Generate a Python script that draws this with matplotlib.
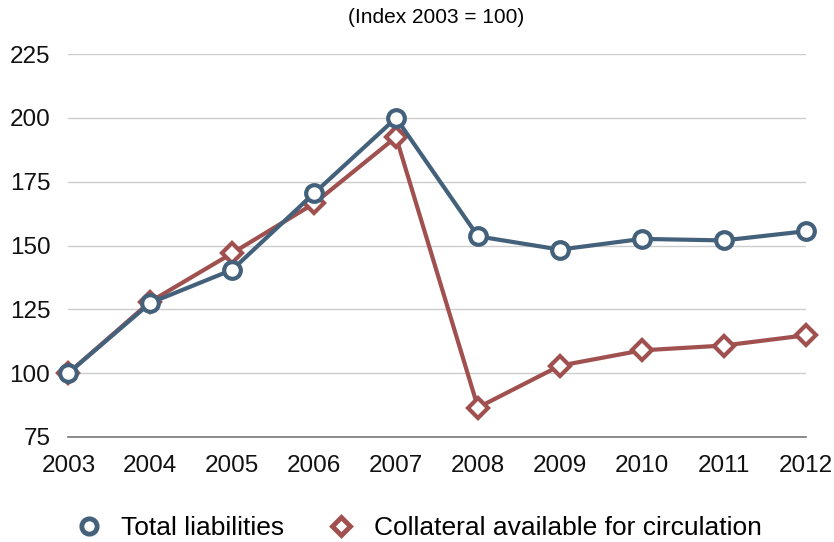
import matplotlib
matplotlib.use("Agg")
import matplotlib.pyplot as plt
from matplotlib.lines import Line2D

plt.rcParams['font.family'] = ['Liberation Sans', 'DejaVu Sans']

# values (index 2003 = 100)
years = [2003, 2004, 2005, 2006, 2007, 2008, 2009, 2010, 2011, 2012]
total_liabilities = [100, 127.5, 140.5, 170.5, 200, 153.6, 148.4, 152.6, 152.0, 155.6]
collateral = [100, 128, 147, 166.5, 192.5, 86.5, 102.9, 108.9, 110.8, 114.8]
yticks = [75, 100, 125, 150, 175, 200, 225]

blue = '#44617b'
red = '#a0504f'

fig = plt.figure(figsize=(8.34, 5.42), dpi=100)
ax = fig.add_axes([0.082, 0.194, 0.884, 0.706])

ax.plot(years, total_liabilities, color=blue, lw=3, marker='o', ms=12,
        mfc='white', mec=blue, mew=3, zorder=4, clip_on=False)
ax.plot(years, collateral, color=red, lw=3, marker='D', ms=10,
        mfc='white', mec=red, mew=3, zorder=3, clip_on=False)

ax.set_xlim(2003, 2012)
ax.set_ylim(75, 225)
ax.set_yticks(yticks)
ax.set_xticks(years)
ax.grid(axis='y', color='#cccccc', lw=1)
ax.set_axisbelow(True)
for s in ['top', 'right', 'left']:
    ax.spines[s].set_visible(False)
ax.spines['bottom'].set_color('#777777')
ax.spines['bottom'].set_linewidth(1.2)
ax.tick_params(length=0, labelsize=17.5, colors='#111111')
ax.tick_params(axis='y', pad=13)
ax.tick_params(axis='x', pad=13)

fig.text(0.523, 0.967, '(Index 2003 = 100)', ha='center', va='center', fontsize=15)

# legend shows only the markers
handles = [
    Line2D([], [], ls='none', marker='o', ms=11, mfc='white', mec=blue, mew=3.5),
    Line2D([], [], ls='none', marker='D', ms=9, mfc='white', mec=red, mew=3.5),
]
labels = ['Total liabilities', 'Collateral available for circulation']
fig.legend(handles, labels, loc='center', bbox_to_anchor=(0.502, 0.026), ncol=2,
           frameon=False, fontsize=19, handlelength=1.0, columnspacing=1.65,
           handletextpad=0.73, borderaxespad=0, borderpad=0)

fig.savefig('out.png', dpi=100)
